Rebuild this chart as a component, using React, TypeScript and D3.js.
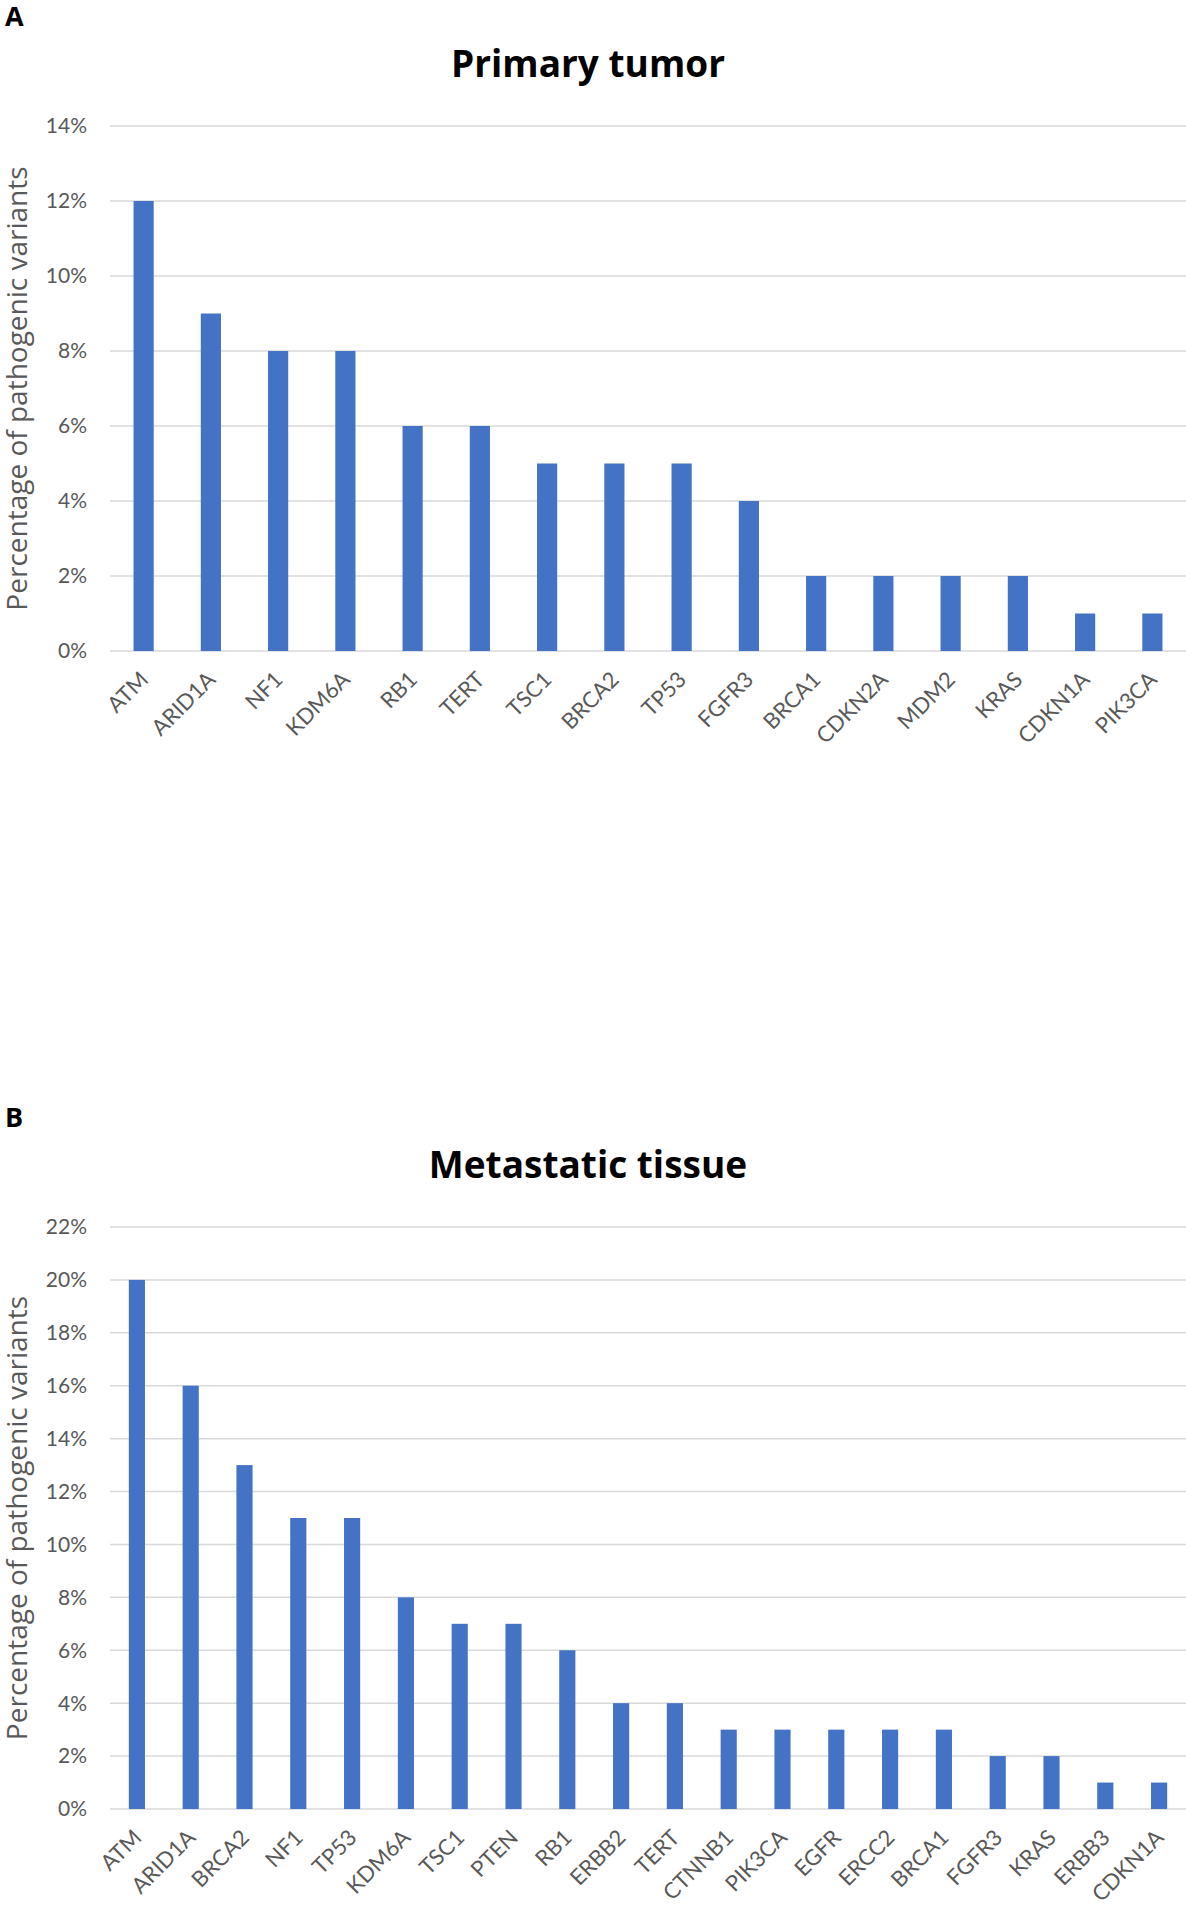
import * as d3 from 'd3';

// Panel A – primary tumor
const primaryGenes = ['ATM', 'ARID1A', 'NF1', 'KDM6A', 'RB1', 'TERT', 'TSC1', 'BRCA2', 'TP53', 'FGFR3', 'BRCA1', 'CDKN2A', 'MDM2', 'KRAS', 'CDKN1A', 'PIK3CA'];
const primaryValues = [12, 9, 8, 8, 6, 6, 5, 5, 5, 4, 2, 2, 2, 2, 1, 1];
const primaryTicks = [0, 2, 4, 6, 8, 10, 12, 14];

// Panel B – metastatic tissue
const metaGenes = ['ATM', 'ARID1A', 'BRCA2', 'NF1', 'TP53', 'KDM6A', 'TSC1', 'PTEN', 'RB1', 'ERBB2', 'TERT', 'CTNNB1', 'PIK3CA', 'EGFR', 'ERCC2', 'BRCA1', 'FGFR3', 'KRAS', 'ERBB3', 'CDKN1A'];
const metaValues = [20, 16, 13, 11, 11, 8, 7, 7, 6, 4, 4, 3, 3, 3, 3, 3, 2, 2, 1, 1];
const metaTicks = [0, 2, 4, 6, 8, 10, 12, 14, 16, 18, 20, 22];

const BAR = '#4472C4';
const GRID = '#d9d9d9';
const TEXT = '#595959';
const TICK_FONT = 'Lato, "Open Sans", sans-serif';
const TITLE_FONT = '"Open Sans", "Noto Sans", sans-serif';

interface PanelProps {
  letter: string;
  title: string;
  genes: string[];
  values: number[];
  ticks: number[];
  top: number;      // y of the panel's top edge
  plotTop: number;  // y of the highest gridline
  plotBottom: number;
}

function Panel({ letter, title, genes, values, ticks, top, plotTop, plotBottom }: PanelProps) {
  const left = 110;
  const right = 1186;

  const x = d3.scaleBand<string>()
    .domain(genes)
    .range([left, right])
    .paddingInner(0.7)
    .paddingOuter(0.35);

  const y = d3.scaleLinear()
    .domain([0, d3.max(ticks) as number])
    .range([plotBottom, plotTop]);

  return (
    <g>
      <text x={5} y={top + 26} fontFamily={TITLE_FONT} fontWeight="bold" fontSize={27} fill="#000">
        {letter}
      </text>
      <text x={588} y={top + 77} textAnchor="middle" fontFamily={TITLE_FONT} fontWeight="bold" fontSize={37} fill="#000">
        {title}
      </text>

      {/* gridlines + tick labels */}
      {ticks.map(t => (
        <g key={t}>
          <line x1={left} x2={right} y1={y(t)} y2={y(t)} stroke={GRID} strokeWidth={1.5} />
          <text x={87} y={y(t)} dy="0.35em" textAnchor="end" fontFamily={TICK_FONT} fontSize={21} fill={TEXT}>
            {t}%
          </text>
        </g>
      ))}

      {/* bars */}
      {genes.map((g, i) => (
        <rect
          key={g}
          x={x(g)}
          y={y(values[i])}
          width={x.bandwidth()}
          height={plotBottom - y(values[i])}
          fill={BAR}
        />
      ))}

      {/* category labels */}
      {genes.map(g => {
        const cx = (x(g) as number) + x.bandwidth() / 2 + 6;
        const cy = plotBottom + 30;
        return (
          <text
            key={g}
            transform={`translate(${cx},${cy}) rotate(-45)`}
            textAnchor="end"
            fontFamily={TICK_FONT}
            fontSize={22}
            fill={TEXT}
          >
            {g}
          </text>
        );
      })}

      {/* y axis title */}
      <text
        transform={`translate(27,${(plotTop + plotBottom) / 2}) rotate(-90)`}
        textAnchor="middle"
        fontFamily={TITLE_FONT}
        fontSize={28}
        fill={TEXT}
      >
        Percentage of pathogenic variants
      </text>
    </g>
  );
}

export default function App() {
  return (
    <svg
      width={1186}
      height={1905}
      style={{ position: 'absolute', left: 0, top: 0, background: '#fff' }}
    >
      <rect width={1186} height={1905} fill="#fff" />
      <Panel
        letter="A"
        title="Primary tumor"
        genes={primaryGenes}
        values={primaryValues}
        ticks={primaryTicks}
        top={0}
        plotTop={126}
        plotBottom={651}
      />
      <Panel
        letter="B"
        title="Metastatic tissue"
        genes={metaGenes}
        values={metaValues}
        ticks={metaTicks}
        top={1101}
        plotTop={1227}
        plotBottom={1809}
      />
    </svg>
  );
}
